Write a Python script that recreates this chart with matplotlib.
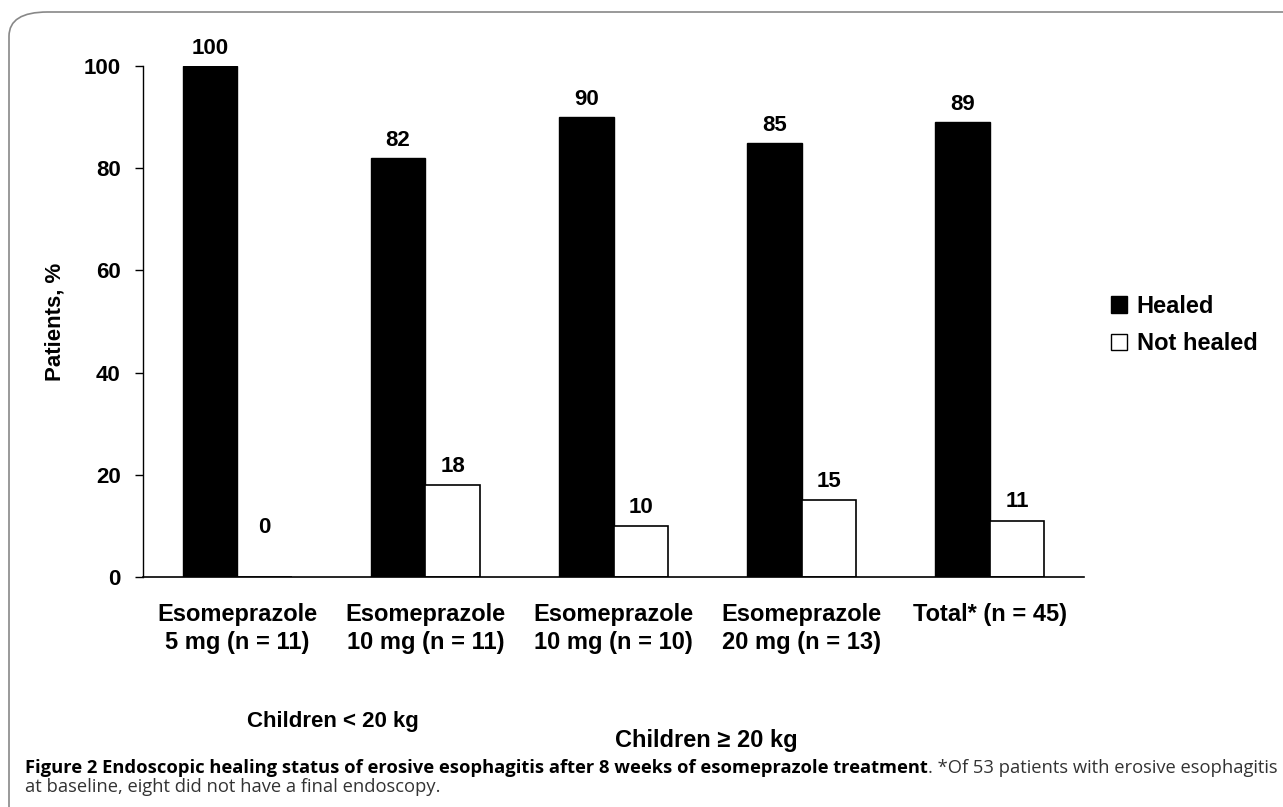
import matplotlib.pyplot as plt
import numpy as np
from matplotlib.patches import Patch, FancyBboxPatch

# data
groups = ['Esomeprazole\n5 mg (n = 11)', 'Esomeprazole\n10 mg (n = 11)',
          'Esomeprazole\n10 mg (n = 10)', 'Esomeprazole\n20 mg (n = 13)',
          'Total* (n = 45)']
healed = [100, 82, 90, 85, 89]
not_healed = [0, 18, 10, 15, 11]
yticks = [0, 20, 40, 60, 80, 100]

plt.rcParams['font.family'] = ['Liberation Sans', 'DejaVu Sans']
plt.rcParams['font.weight'] = 'bold'

W, H = 1283, 807
fig = plt.figure(figsize=(W / 100, H / 100), dpi=100)

# rounded frame around figure
frame = FancyBboxPatch((9 / W, -0.2), 1.2, 1.2 - 12 / H,
                       boxstyle='round,pad=0,rounding_size=0.03',
                       transform=fig.transFigure, facecolor='none',
                       edgecolor='#888888', linewidth=1.2)
fig.patches.append(frame)

ax = fig.add_axes([143 / W, 1 - 577 / H, (1084 - 143) / W, (577 - 66) / H])
x = np.arange(len(groups))
bw = 0.29
ax.bar(x - bw, healed, bw, align='edge', color='black', edgecolor='black', linewidth=1)
ax.bar(x, not_healed, bw, align='edge', color='white', edgecolor='black', linewidth=1.2)

for xi, v in zip(x, healed):
    ax.annotate(str(v), (xi - bw / 2, v), xytext=(0, 5), textcoords='offset points',
                ha='center', va='bottom', fontsize=16, fontweight='bold')
for xi, v in zip(x, not_healed):
    ax.annotate(str(v), (xi + bw / 2, max(v, 6)), xytext=(0, 6), textcoords='offset points',
                ha='center', va='bottom', fontsize=16, fontweight='bold')

ax.set_xlim(-0.5, 4.5)
ax.set_ylim(0, 100)
ax.set_yticks(yticks)
ax.set_yticklabels([str(t) for t in yticks], fontsize=16, fontweight='bold')
ax.set_xticks(x)
ax.set_xticklabels(groups, fontsize=17, fontweight='bold', linespacing=1.25)
ax.tick_params(axis='x', length=0, pad=19)
ax.tick_params(axis='y', direction='out', length=6, width=1, pad=10)
for s in ['top', 'right']:
    ax.spines[s].set_visible(False)
ax.spines['left'].set_linewidth(1)
ax.spines['bottom'].set_linewidth(1.2)
ax.set_ylabel('Patients, %', fontsize=16, fontweight='bold', labelpad=13)

fig.text(333 / W, 1 - 722 / H, 'Children < 20 kg', ha='center', va='center',
         fontsize=16, fontweight='bold')
fig.text(706 / W, 1 - 740 / H, 'Children ≥ 20 kg', ha='center', va='center',
         fontsize=17, fontweight='bold')

handles = [Patch(facecolor='black', edgecolor='black', label='Healed'),
           Patch(facecolor='white', edgecolor='black', label='Not healed')]
fig.legend(handles=handles, loc='center left', bbox_to_anchor=(1099 / W, 1 - 325 / H),
           frameon=False, fontsize=17, handlelength=0.7, handleheight=0.7,
           handletextpad=0.4, labelspacing=0.6, borderpad=0)

# caption
cap_font = ['Open Sans', 'DejaVu Sans']
cap_size = 13.2
t1 = fig.text(25 / W, 1 - 768 / H,
              'Figure 2 Endoscopic healing status of erosive esophagitis after 8 weeks of esomeprazole treatment',
              ha='left', va='center', fontsize=cap_size, fontweight='bold', family=cap_font)
fig.canvas.draw()
bb = t1.get_window_extent()
fig.text(bb.x1 / W, 1 - 768 / H,
         '. *Of 53 patients with erosive esophagitis',
         ha='left', va='center', fontsize=cap_size, fontweight='normal', family=cap_font,
         color='#333333')
fig.text(25 / W, 1 - 787 / H, 'at baseline, eight did not have a final endoscopy.',
         ha='left', va='center', fontsize=cap_size, fontweight='normal', family=cap_font,
         color='#333333')

fig.savefig('out.png', dpi=100)
